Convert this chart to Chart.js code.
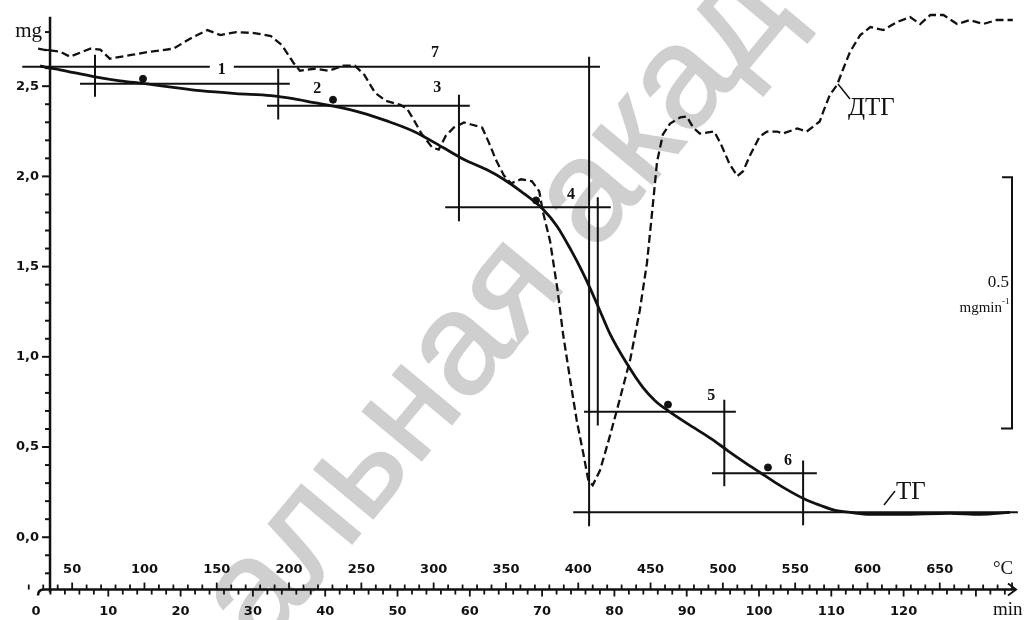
<!DOCTYPE html>
<html lang="ru">
<head>
<meta charset="UTF-8" />
<title>ТГ / ДТГ</title>
<script src="https://cdn.jsdelivr.net/npm/chart.js"></script>
<style>
  html, body { margin: 0; padding: 0; background: #fff; }
</style>
</head>
<body>
<canvas id="tgChart" width="1025" height="620"></canvas>
<script>
// TG curve: time (min) / mass (mg)
const tgTime = [0.55, 0.97, 3.32, 8.16, 11.62, 15.08, 19.23, 22.68, 27.66, 32.50,
  35.55, 38.45, 41.49, 44.95, 48.41, 52.28, 56.29, 59.20, 62.24, 64.73,
  67.08, 70.12, 72.06, 74.00, 75.52, 76.63, 78.01, 79.39, 81.74, 83.96,
  85.62, 87.41, 90.32, 93.36, 95.85, 98.06, 100.14, 102.21, 104.29, 106.36,
  108.44, 110.51, 112.59, 115.35, 119.50, 126.42, 130.57, 134.72];
const tgMass = [2.613, 2.608, 2.591, 2.552, 2.530, 2.514, 2.492, 2.475, 2.459, 2.448,
  2.431, 2.409, 2.387, 2.354, 2.309, 2.249, 2.160, 2.094, 2.039, 1.983,
  1.917, 1.818, 1.724, 1.591, 1.475, 1.381, 1.254, 1.127, 0.961, 0.829,
  0.757, 0.702, 0.624, 0.547, 0.475, 0.414, 0.359, 0.304, 0.254, 0.210,
  0.177, 0.149, 0.138, 0.127, 0.127, 0.133, 0.127, 0.138];

// DTG curve: time (min) / rate (mg/min)
const dtgTime = [0.3, 1.0, 3.3, 4.7, 7.5, 8.9, 10.2, 13.4, 15.8, 19.0,
  21.7, 23.7, 25.5, 27.7, 30.2, 32.5, 34.0, 35.6, 36.5, 38.5,
  40.5, 42.5, 44.1, 45.4, 46.9, 48.4, 50.4, 51.3, 52.3, 53.3,
  54.8, 55.7, 56.7, 57.8, 59.2, 60.2, 61.7, 62.7, 63.6, 64.7,
  65.7, 67.1, 68.6, 69.6, 70.1, 71.1, 72.1, 72.9, 73.9, 74.8,
  75.7, 76.4, 77.0, 78.0, 79.4, 80.8, 82.2, 83.5, 84.5, 85.2,
  85.9, 86.7, 87.7, 89.1, 90.0, 90.9, 91.8, 93.8, 94.7, 95.9,
  97.0, 97.8, 98.8, 100.1, 101.1, 102.5, 103.3, 105.3, 106.6, 107.5,
  108.4, 108.9, 109.8, 110.8, 111.6, 112.6, 114.0, 115.4, 117.2, 119.1,
  120.9, 122.3, 123.7, 125.5, 127.4, 129.2, 131.0, 132.9, 135.1];
const dtgRate = [-0.069, -0.071, -0.075, -0.085, -0.069, -0.071, -0.089, -0.081, -0.075, -0.069,
  -0.046, -0.032, -0.042, -0.036, -0.038, -0.044, -0.062, -0.097, -0.113, -0.109,
  -0.113, -0.103, -0.103, -0.121, -0.157, -0.173, -0.181, -0.188, -0.212, -0.238,
  -0.266, -0.270, -0.242, -0.226, -0.216, -0.220, -0.226, -0.258, -0.290, -0.321,
  -0.337, -0.329, -0.333, -0.353, -0.393, -0.452, -0.546, -0.637, -0.730, -0.810,
  -0.875, -0.929, -0.938, -0.909, -0.839, -0.764, -0.687, -0.591, -0.496, -0.397,
  -0.294, -0.240, -0.218, -0.206, -0.204, -0.226, -0.238, -0.234, -0.258, -0.298,
  -0.323, -0.313, -0.280, -0.244, -0.234, -0.234, -0.238, -0.228, -0.234, -0.224,
  -0.214, -0.194, -0.161, -0.141, -0.111, -0.075, -0.042, -0.026, -0.032, -0.016,
  -0.006, -0.020, -0.002, -0.002, -0.020, -0.012, -0.020, -0.012, -0.012];

// marked points on TG
const markTime = [14.80, 41.08, 69.16, 87.41, 101.24];
const markMass = [2.541, 2.425, 1.867, 0.735, 0.387];

// step construction lines: [t1, mg1, t2, mg2]
const stepSegments = [
  [-1.9, 2.608, 78.0, 2.608],
  [8.16, 2.674, 8.16, 2.442],
  [6.09, 2.514, 35.1, 2.514],
  [33.5, 2.597, 33.5, 2.315],
  [31.95, 2.392, 60.0, 2.392],
  [58.5, 2.453, 58.5, 1.751],
  [56.6, 1.829, 79.5, 1.829],
  [77.7, 1.884, 77.7, 0.619],
  [76.5, 2.663, 76.5, 0.061],
  [75.8, 0.696, 96.8, 0.696],
  [95.2, 0.762, 95.2, 0.282],
  [93.5, 0.354, 108.0, 0.354],
  [106.1, 0.425, 106.1, 0.066],
  [74.3, 0.138, 135.8, 0.138]
];
const stepLabels = ["1", "2", "3", "4", "5", "6", "7"];

const mgTicks = [0, 0.5, 1, 1.5, 2, 2.5];
const mgTickLabels = ["0,0", "0,5", "1,0", "1,5", "2,0", "2,5"];
const minTicks = [0, 10, 20, 30, 40, 50, 60, 70, 80, 90, 100, 110, 120];
const tempTicks = [50, 100, 150, 200, 250, 300, 350, 400, 450, 500, 550, 600, 650];

const datasets = [];
datasets.push({
  data: tgTime.map((t, i) => ({ x: t, y: tgMass[i] })),
  borderColor: "#111", borderWidth: 2.8, pointRadius: 0,
  cubicInterpolationMode: "monotone", xAxisID: "x", yAxisID: "y"
});
datasets.push({
  data: dtgTime.map((t, i) => ({ x: t, y: dtgRate[i] })),
  borderColor: "#111", borderWidth: 2.3, borderDash: [8, 4], pointRadius: 0,
  tension: 0, xAxisID: "x", yAxisID: "yD"
});
stepSegments.forEach((s) => {
  datasets.push({
    data: [{ x: s[0], y: s[1] }, { x: s[2], y: s[3] }],
    borderColor: "#111", borderWidth: 2, pointRadius: 0, tension: 0,
    xAxisID: "x", yAxisID: "y"
  });
});
datasets.push({
  data: markTime.map((t, i) => ({ x: t, y: markMass[i] })),
  showLine: false, pointRadius: 3.5, pointBackgroundColor: "#111",
  pointBorderColor: "#111", xAxisID: "x", yAxisID: "y"
});

const decor = {
  id: "decor",
  beforeDatasetsDraw(chart) {
    // faint watermark behind the curves
    const ctx = chart.ctx;
    ctx.save();
    ctx.translate(261, 653);
    ctx.rotate(-50.2 * Math.PI / 180);
    ctx.fillStyle = "#cfcfcf";
    ctx.strokeStyle = "#cfcfcf";
    ctx.lineWidth = 2;
    ctx.font = '145px "Liberation Sans"';
    ctx.textBaseline = "alphabetic";
    ctx.fillText("альная академия", 0, 0);
    ctx.strokeText("альная академия", 0, 0);
    ctx.restore();
  },
  afterDatasetsDraw(chart) {
    const ctx = chart.ctx;
    const xs = chart.scales.x, xt = chart.scales.xT, ys = chart.scales.y, yd = chart.scales.yD;
    const ax = xs.getPixelForValue(1.94);
    const ay = ys.getPixelForValue(-0.29);
    ctx.save();
    ctx.strokeStyle = "#111";
    ctx.fillStyle = "#111";

    // y axis
    ctx.lineWidth = 2.5;
    ctx.beginPath();
    ctx.moveTo(ax, ys.getPixelForValue(2.885));
    ctx.lineTo(ax, ay + 3);
    ctx.stroke();
    ctx.lineWidth = 2;
    for (let i = -2; i <= 28; i++) {
      const py = ys.getPixelForValue(i / 10);
      const len = i % 5 === 0 ? 8 : 5;
      ctx.beginPath();
      ctx.moveTo(ax - len, py);
      ctx.lineTo(ax, py);
      ctx.stroke();
    }
    ctx.font = 'bold 13px "DejaVu Sans"';
    ctx.textAlign = "right";
    ctx.textBaseline = "middle";
    mgTicks.forEach((v, i) => ctx.fillText(mgTickLabels[i], ax - 11, ys.getPixelForValue(v)));
    ctx.font = '21px "Liberation Serif"';
    ctx.textBaseline = "alphabetic";
    ctx.fillText("mg", ax - 8, ys.getPixelForValue(2.8) + 5);

    // x axis
    ctx.lineWidth = 2.5;
    ctx.beginPath();
    ctx.moveTo(38, ay + 6);
    ctx.quadraticCurveTo(38, ay, 44, ay);
    ctx.lineTo(1015, ay);
    ctx.stroke();
    ctx.lineWidth = 2;
    ctx.beginPath();
    ctx.moveTo(1008, ay - 6);
    ctx.lineTo(1016, ay);
    ctx.lineTo(1008, ay + 6);
    ctx.stroke();
    ctx.lineWidth = 1.8;
    for (let m = 2; m <= 134; m += 2) {
      const px = xs.getPixelForValue(m);
      const len = m % 10 === 0 ? 7 : 5;
      ctx.beginPath();
      ctx.moveTo(px, ay);
      ctx.lineTo(px, ay + len);
      ctx.stroke();
    }
    for (let T = 20; T <= 700; T += 10) {
      const px = xt.getPixelForValue(T);
      const len = T % 50 === 0 ? 7 : 5;
      ctx.beginPath();
      ctx.moveTo(px, ay);
      ctx.lineTo(px, ay - len);
      ctx.stroke();
    }
    ctx.font = 'bold 13px "DejaVu Sans"';
    ctx.textAlign = "center";
    ctx.textBaseline = "middle";
    tempTicks.forEach((T) => ctx.fillText(String(T), xt.getPixelForValue(T), ay - 20));
    minTicks.forEach((m) => ctx.fillText(String(m), xs.getPixelForValue(m), ay + 22));
    ctx.font = '19px "Liberation Serif"';
    ctx.textAlign = "left";
    ctx.fillText("°C", 993, ay - 21);
    ctx.fillText("min", 993, ay + 20);

    // step numbers
    const lab = (s, t, v) => {
      ctx.fillText(s, xs.getPixelForValue(t), ys.getPixelForValue(v));
    };
    ctx.font = 'bold 16px "Liberation Serif"';
    ctx.textAlign = "center";
    ctx.textBaseline = "middle";
    const p1x = xs.getPixelForValue(25.7), p1y = ys.getPixelForValue(2.608);
    ctx.fillStyle = "#fff";
    ctx.fillRect(p1x - 12, p1y - 6, 24, 12);
    ctx.fillStyle = "#111";
    lab(stepLabels[0], 25.7, 2.590);
    lab(stepLabels[1], 38.9, 2.486);
    lab(stepLabels[2], 55.5, 2.492);
    lab(stepLabels[3], 74.0, 1.895);
    lab(stepLabels[4], 93.4, 0.785);
    lab(stepLabels[5], 104.0, 0.425);
    lab(stepLabels[6], 55.2, 2.685);

    // curve names
    ctx.font = '25px "Liberation Serif"';
    ctx.textAlign = "left";
    ctx.textBaseline = "alphabetic";
    ctx.fillText("ДТГ", 848, 115);
    ctx.fillText("ТГ", 896, 499);
    ctx.lineWidth = 1.5;
    ctx.beginPath();
    ctx.moveTo(838, 84);
    ctx.lineTo(850, 99);
    ctx.moveTo(884, 505);
    ctx.lineTo(895, 491);
    ctx.stroke();

    // DTG scale bracket: 0.5 mg/min
    const bx = 1012, bt = yd.getPixelForValue(-0.325), bb = yd.getPixelForValue(-0.825);
    ctx.lineWidth = 2;
    ctx.beginPath();
    ctx.moveTo(1002, bt);
    ctx.lineTo(bx, bt);
    ctx.lineTo(bx, bb);
    ctx.lineTo(1001, bb);
    ctx.stroke();
    ctx.textAlign = "right";
    ctx.textBaseline = "middle";
    ctx.font = '17px "Liberation Serif"';
    ctx.fillText("0.5", 1009, 283);
    ctx.font = '15px "Liberation Serif"';
    ctx.fillText("mgmin", 1002, 308);
    ctx.font = '9px "Liberation Serif"';
    ctx.textAlign = "left";
    ctx.fillText("-1", 1002, 302);
    ctx.restore();
  }
};

new Chart(document.getElementById("tgChart").getContext("2d"), {
  type: "line",
  data: { datasets: datasets },
  options: {
    responsive: false,
    devicePixelRatio: 1,
    animation: false,
    layout: { padding: { left: 18, right: 6, top: 3, bottom: 18 } },
    plugins: { legend: { display: false }, tooltip: { enabled: false } },
    scales: {
      x: { type: "linear", min: -2.49, max: 135.96, display: false },
      xT: { type: "linear", min: 12.55, max: 704.8, display: false },
      y: { type: "linear", min: -0.359, max: 2.95, display: false },
      yD: { type: "linear", min: -1.1706, max: 0.0179, display: false }
    }
  },
  plugins: [decor]
});
</script>
</body>
</html>
